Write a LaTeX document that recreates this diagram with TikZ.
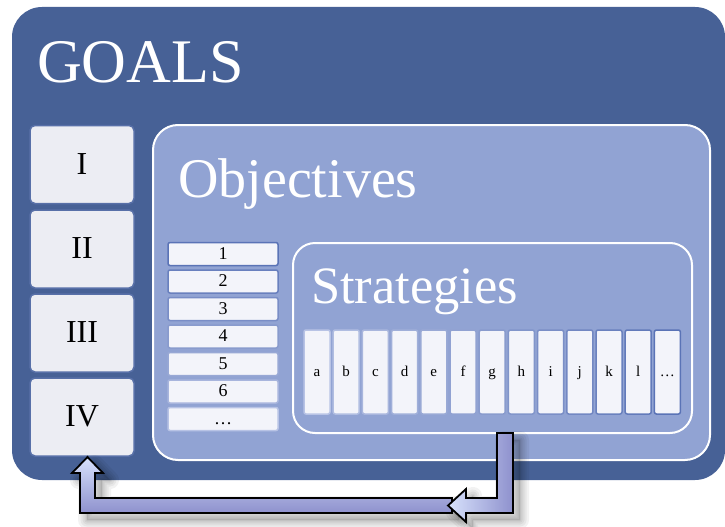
\documentclass[tikz,border=0pt]{standalone}
\usepackage{fontspec}
\setmainfont{Liberation Serif}
\definecolor{goalblue}{HTML}{476196}
\definecolor{objblue}{HTML}{91A3D3}
\definecolor{boxfill}{HTML}{ECEDF3}
\definecolor{cellfill}{HTML}{F3F4FA}
\definecolor{goalrim}{HTML}{5870A8}
\definecolor{lightrim}{HTML}{B8C3E5}
\definecolor{darkrim}{HTML}{5A73B6}
\definecolor{arrowlight}{HTML}{D8E2FC}
\definecolor{arrowdark}{HTML}{8E91CD}
\tikzset{
  outerbox/.style={fill=goalblue, rounded corners=30pt, inner sep=0pt, outer sep=0pt},
  innerbox/.style={fill=objblue, draw=white, line width=2pt, inner sep=0pt, outer sep=0pt},
  title/.style={anchor=base west, text=white, inner sep=0pt},
  goalbox/.style={draw=goalrim, line width=1.5pt, fill=boxfill, rounded corners=5pt,
    minimum width=104pt, minimum height=78pt, inner sep=0pt,
    text height=22pt, text depth=3pt, font=\fontsize{32}{32}\selectfont},
  numbox/.style={fill=cellfill, line width=1.5pt, rounded corners=2pt,
    minimum width=110pt, minimum height=23pt, inner sep=0pt,
    text height=12pt, text depth=1.4pt, font=\fontsize{18}{18}\selectfont},
  letbox/.style={fill=cellfill, line width=1.5pt, rounded corners=2pt,
    minimum width=26pt, minimum height=84pt, inner sep=0pt,
    text height=12pt, text depth=2.6pt, font=\fontsize{15}{15}\selectfont},
  arrowA/.style={insert path={(497,433) -- (513,433) -- (513,513) -- (466,513) -- (466,522) -- (448,505.5) -- (466,489) -- (466,498) -- (497,498) -- cycle}},
  arrowB/.style={insert path={(452,498) -- (95,498) -- (95,473) -- (103,473) -- (87.5,457) -- (72,473) -- (80,473) -- (80,513) -- (452,513) -- cycle}},
  blockarrow/.style={draw=black, line width=1.8pt, miter limit=4},
}
\begin{document}
\begin{tikzpicture}[x=1pt, y=-1pt]
\useasboundingbox (0,0) rectangle (725,527);

% GOALS
\node[outerbox, minimum width=713pt, minimum height=473pt] (goals) at (368.5,243.5) {};
\node[title, font=\fontsize{62}{62}\selectfont] (goalst) at (37,82) {GOALS};

\foreach \r/\y in {I/164.5, II/249, III/333, IV/417}
  \node[goalbox] (G\r) at (82,\y) {\r};

% Objectives
\node[innerbox, rounded corners=25pt, minimum width=557pt, minimum height=335pt] (obj) at (431.5,292.5) {};
\node[title, font=\fontsize{56}{56}\selectfont] (objt) at (178,197) {Objectives};

\foreach \t [count=\i from 0] in {1,2,3,4,5,6,\dots} {
  \pgfmathtruncatemacro{\p}{\i*100/6}
  \node[numbox, draw=lightrim!\p!darkrim] (N\i) at (223,{254+\i*27.5}) {\t};
}

% Strategies
\node[innerbox, rounded corners=22pt, minimum width=399pt, minimum height=190pt] (strat) at (492.5,338) {};
\node[title, font=\fontsize{52.5}{52.5}\selectfont] (stratt) at (311,303) {Strategies};

\foreach \t [count=\i from 0] in {a,b,c,d,e,f,g,h,i,j,k,l,\dots} {
  \pgfmathtruncatemacro{\p}{\i*100/12}
  \node[letbox, draw=darkrim!\p!lightrim] (L\i) at ({317+\i*29.2},372) {\t};
}

% shadows of the block arrows
\foreach \w in {18,13,9,5,2} {
  \draw[black, opacity=0.05, line width=\w pt, line join=round, shift={(7,7)}, arrowB];
  \draw[black, opacity=0.05, line width=\w pt, line join=round, shift={(7,7)}, arrowA];
}
\fill[black, opacity=0.10, shift={(7,7)}, arrowB];
\fill[black, opacity=0.10, shift={(7,7)}, arrowA];

% block arrows
\path[blockarrow, top color=arrowlight, bottom color=arrowdark, arrowB];
\path[blockarrow, left color=arrowlight, right color=arrowdark, arrowA];
\end{tikzpicture}
\end{document}
